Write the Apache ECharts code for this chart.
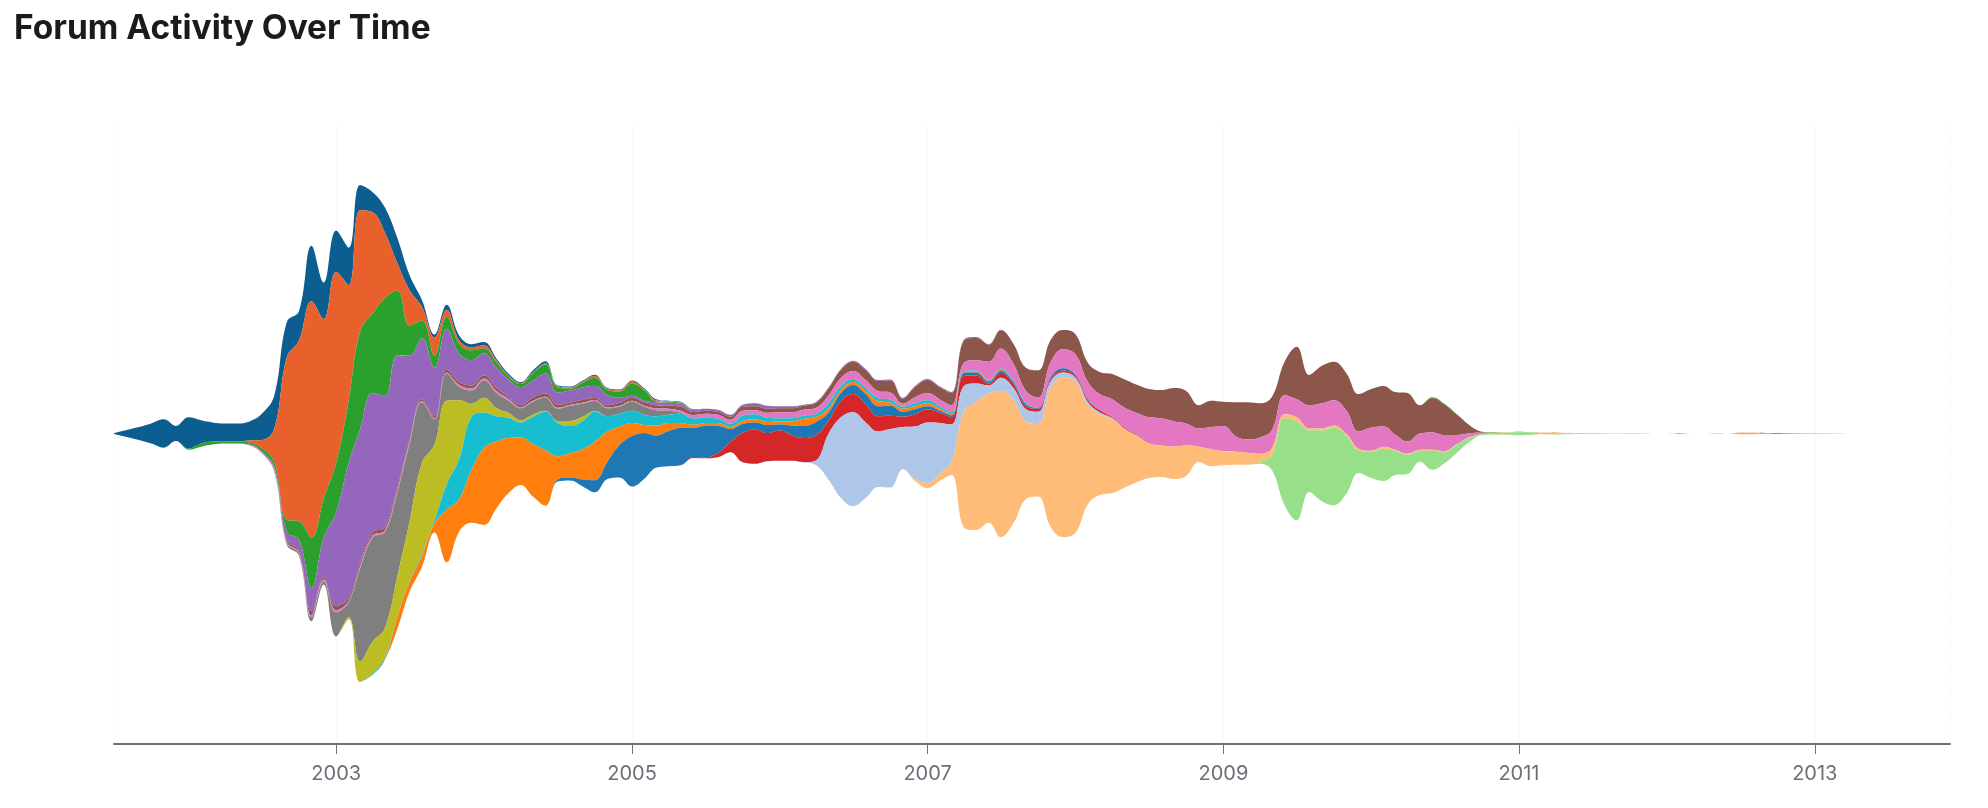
<!DOCTYPE html>
<html>
<head>
<meta charset="utf-8">
<title>Forum Activity Over Time</title>
<script src="https://cdn.jsdelivr.net/npm/echarts@6/dist/echarts.min.js"></script>
<style>
  html, body { margin: 0; padding: 0; background: #fff; }
  #chart { width: 1988px; height: 808px; }
</style>
</head>
<body>
<div id="chart"></div>
<script>
// monthly posts per board, each board as [first month, values...] segments
const announcements = [['2001-07', [1, 7, 13, 20, 28, 15, 31, 23, 19, 18, 18, 19, 26, 33, 35, 29, 55, 36, 41, 37, 25, 20, 25, 25, 15, 7, 3, 5, 5, 3, 3, 2, 2, 1, 2, 2, 1, 1, 1, 1, 1, 1, 1, 1, 1, 0.5, 0.5, 0.5]]];
const general = [['2002-06', [2, 8, 33, 161, 179, 234, 178, 189, 114, 120, 100, 65, 27, 35, 13, 18, 7, 3, 3, 3, 2, 1, 1, 1, 1, 1, 1, 1, 2, 1, 1, 2, 1, 1, 0.5, 0.5]]];
const help = [
  ['2002-01', [1, 3, 3, 2, 2, 2, 3, 5, 12, 18, 50, 39, 49, 62, 97, 79, 97, 64, 30, 18, 12, 12, 10, 10, 5, 5, 3, 3, 7, 9, 5, 2, 5, 8, 5, 6, 12, 10, 1, 1, 1, 0.5]],
  ['2010-06', [1, 1, 0.5]],
  ['2010-11', [0.3, 0, 0.5]]
];
const releases = [
  ['2002-07', [1, 2, 8, 11, 23, 39, 93, 134, 133, 138, 130, 131, 84, 60, 48, 40, 28, 25, 22, 20, 17, 18, 17, 20, 12, 12, 12, 12, 10, 5, 2, 2, 3, 3, 3, 2, 2, 2, 2, 2, 3, 3, 2, 2, 1, 1, 1, 1, 1, 1, 1, 1, 1, 1, 1, 1, 1, 1, 1, 0.5, 0.5]],
  ['2012-10', [0.7, 0.5]]
];
const offTopic = [['2002-08', [1, 2, 2, 4, 2, 4, 3, 3, 3, 3, 3, 2, 2, 2, 3, 3, 3, 3, 3, 2, 2, 3, 3, 3, 2, 3, 2, 2, 3, 3, 3, 3, 3, 4, 3, 3, 3, 3, 4, 4, 4, 4, 4, 4, 5, 7, 8, 9, 10, 10, 12, 5, 10, 13, 12, 12, 22, 22, 17, 18, 20, 23, 27, 22, 19, 20, 19, 22, 25, 28, 28, 28, 28, 33, 32, 23, 26, 24, 34, 37, 34, 33, 33, 52, 30, 37, 38, 37, 37, 38, 40, 42, 48, 28, 34, 30, 20, 8, 1]]];
const showcase = [
  ['2002-06', [1, 1, 1, 1, 1, 2, 2, 2, 1, 2, 2, 2, 2, 2, 1, 1, 1, 2, 2, 2, 2, 2, 1, 1, 1, 1, 1, 1, 1, 1, 1, 1, 1, 2, 2, 2, 3, 4, 4, 4, 5, 4, 5, 6, 6, 6, 6, 8, 8, 8, 8, 7, 7, 3, 6, 7, 7, 7, 8, 10, 18, 20, 17, 12, 10, 15, 19, 20, 17, 16, 18, 20, 22, 26, 27, 25, 22, 18, 22, 25, 15, 13, 16, 18, 19, 18, 23, 25, 25, 23, 17, 23, 20, 15, 12, 16, 17, 16, 9, 4, 1]],
  ['2012-12', [0.4]]
];
const plugins = [['2002-08', [0.5, 2, 2, 4, 3, 24, 15, 92, 103, 95, 83, 77, 60, 25, 27, 13, 13, 17, 15, 12, 12, 13, 13, 12, 15, 13, 10, 8, 7, 9, 8, 6, 4, 1, 0.5]]];
const themes = [['2003-02', [2, 20, 32, 29, 39, 58, 90, 75, 83, 58, 13, 15, 8, 5, 2, 2, 1, 2, 5, 4, 0.5]]];
const tutorials = [['2003-04', [1, 2, 1, 1, 2, 3, 25, 40, 53, 35, 25, 20, 15, 27, 38, 33, 27, 28, 30, 15, 13, 12, 10, 9, 8, 9, 6, 5, 4, 3, 5, 5, 4, 3, 3, 3, 3, 5, 4, 3, 3, 3, 3, 2, 3, 3, 2, 2, 1, 1, 1, 1, 1, 1]]];
const development = [
  ['2003-06', [12, 10, 11, 9, 52, 32, 52, 76, 66, 55, 47, 52, 55, 23, 24, 30, 38, 30, 18, 13, 8, 10, 8, 5, 3, 3, 3, 2, 3, 3, 3, 3, 4, 7, 5, 4, 3, 3, 3, 5, 3, 3, 3, 3, 2, 1, 1, 1, 0.5, 1]],
  ['2010-10', [0.5, 0.5]],
  ['2011-03', [1, 0.5]],
  ['2012-07', [0.8, 0.8]]
];
const mobile = [
  ['2004-07', [2, 3, 7, 12, 17, 32, 50, 45, 32, 35, 37, 29, 31, 27, 13, 9, 7, 8, 6, 10, 12, 13, 8, 8, 9, 10, 10, 10, 5, 5, 3, 2, 2, 3, 3, 2, 2, 2, 2, 1, 2, 2, 1, 1]],
  ['2012-10', [0.5]]
];
const cloud = [
  ['2005-06', [1, 1, 4, 10, 29, 34, 28, 30, 25, 24, 25, 13, 16, 18, 18, 15, 13, 10, 12, 13, 10, 7, 10, 8, 2, 5, 4, 3, 3, 2, 2, 2, 2, 2, 1, 1, 0.5]],
  ['2012-09', [0.5]]
];
const feedback = [
  ['2006-04', [5, 45, 80, 93, 75, 55, 58, 42, 52, 60, 50, 37, 25, 18, 8, 13, 12, 12, 12, 7, 5, 4, 3, 2, 1, 0.5]],
  ['2012-05', [0.6]],
  ['2012-11', [0.5, 0.6, 0, 0.7]]
];
const community = [
  ['2006-12', [2, 5, 7, 13, 115, 127, 128, 145, 122, 77, 72, 137, 158, 150, 98, 80, 73, 58, 46, 34, 31, 32, 30, 15, 17, 14, 13, 12, 8, 7, 4, 4, 2, 2, 2, 2, 2, 1, 2, 1, 1, 1, 1, 1, 0.5, 0.5, 0, 0, 0.5, 0, 0, 0.5, 1, 0.8, 0.8, 0.6, 0, 0.6, 0, 0.5]],
  ['2012-08', [0.5]],
  ['2013-01', [0.8, 0, 0.5]]
];
const jobs = [['2009-04', [2, 15, 86, 98, 61, 70, 77, 57, 22, 26, 32, 24, 19, 11, 19, 11, 8, 4, 1, 1.5, 2, 3, 2.5, 0, 0.5, 0.5, 0, 0.5, 0.6]]];
const archive = [['2011-10', [0.6]], ['2012-02', [0.8]], ['2012-07', [0.5, 0, 0.5]]];

const layerNames = ['Announcements', 'General', 'Help', 'Releases', 'Off-Topic', 'Showcase', 'Plugins', 'Themes',
  'Tutorials', 'Development', 'Mobile', 'Cloud', 'Feedback', 'Community', 'Jobs', 'Archive'];
const layerValues = [announcements, general, help, releases, offTopic, showcase, plugins, themes,
  tutorials, development, mobile, cloud, feedback, community, jobs, archive];
const layerColors = ['#0c5e91', '#e8602c', '#2ca02c', '#9467bd', '#8c564b', '#e377c2', '#7f7f7f', '#bcbd22',
  '#17becf', '#ff7f0e', '#1f77b4', '#d62728', '#aec7e8', '#ffbb78', '#98df8a', '#ff9896'];

// every month from 2001-07 to 2013-12
const months = [];
for (let y = 2001, m = 7; y < 2014; ) {
  months.push(y + '-' + String(m).padStart(2, '0'));
  m++;
  if (m > 12) { m = 1; y++; }
}

function layerData(name, segments) {
  const byMonth = {};
  segments.forEach(([start, values]) => {
    const s = months.indexOf(start);
    values.forEach((v, k) => { byMonth[months[s + k]] = v; });
  });
  return months.map((m) => [m + '-01', byMonth[m] || 0, name]);
}

const riverData = [];
layerNames.forEach((name, i) => {
  layerData(name, layerValues[i]).forEach((row) => riverData.push(row));
});

const chart = echarts.init(document.getElementById('chart'));
chart.setOption({
  animation: false,
  color: layerColors,
  title: {
    text: 'Forum Activity Over Time',
    left: 9,
    top: 7,
    textStyle: { fontFamily: 'Inter', fontSize: 33.5, fontWeight: 700, color: '#1b1b1b' }
  },
  singleAxis: {
    type: 'time',
    left: 114,
    right: 38,
    top: 123,
    bottom: 64,
    axisLine: { lineStyle: { color: '#6e7079', width: 2 } },
    axisTick: { length: 10, lineStyle: { color: '#6e7079' } },
    axisLabel: { fontFamily: 'Inter', fontSize: 20, color: '#6e7079', margin: 20, formatter: '{yyyy}' },
    splitLine: { show: true, lineStyle: { type: 'dashed', opacity: 0.2 } }
  },
  series: [
    {
      type: 'themeRiver',
      label: { show: false },
      emphasis: { disabled: true },
      data: riverData
    }
  ]
});
window.addEventListener('resize', () => chart.resize());
</script>
</body>
</html>
